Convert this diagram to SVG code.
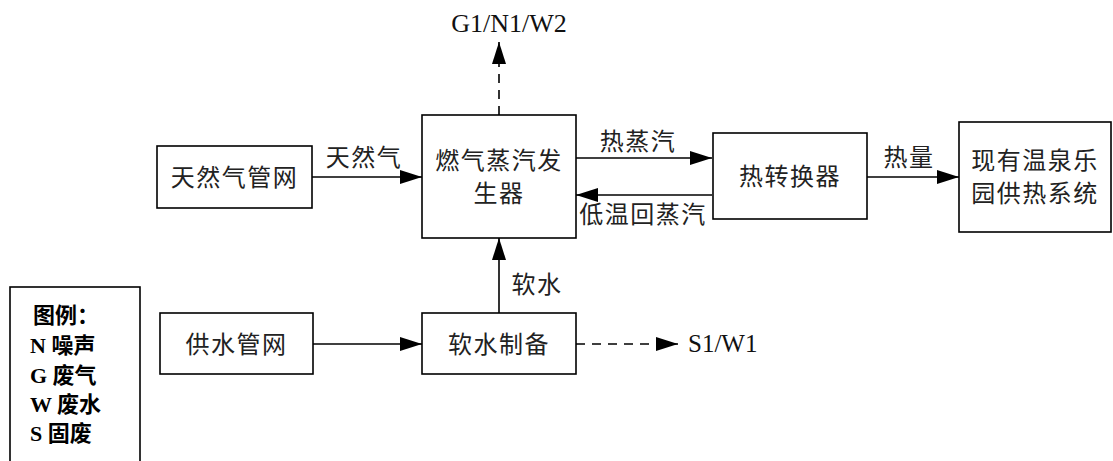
<svg xmlns="http://www.w3.org/2000/svg" width="1113" height="461" viewBox="0 0 1113 461">
<style>
.box{fill:#fff;stroke:#000;stroke-width:1.6}
.t{font-family:"Noto Sans CJK SC","Liberation Serif",serif;font-size:24px;letter-spacing:1.5px;fill:#222;text-anchor:middle}
.l{font-family:"Liberation Serif","Noto Sans CJK SC",serif;font-size:25px;fill:#111}
.lg{font-family:"Liberation Serif","Noto Sans CJK SC",serif;font-size:22px;font-weight:bold;fill:#000}
.c{stroke:#000;stroke-width:1.6;fill:none}
.d{stroke-dasharray:9,7}
</style>
<defs>
<marker id="ah" markerWidth="22" markerHeight="14" refX="22" refY="7" orient="auto" markerUnits="userSpaceOnUse">
<path d="M0,0 L22,7 L0,14 Z" fill="#000"/>
</marker>
</defs>
<rect width="1113" height="461" fill="#fff"/>
<g id="connectors">
<line class="c d" x1="499" y1="115" x2="499" y2="42" marker-end="url(#ah)"/>
<line class="c" x1="312" y1="177" x2="422" y2="177" marker-end="url(#ah)"/>
<line class="c" x1="576" y1="158" x2="712" y2="158" marker-end="url(#ah)"/>
<line class="c" x1="712" y1="195" x2="576" y2="195" marker-end="url(#ah)"/>
<line class="c" x1="867" y1="177" x2="959" y2="177" marker-end="url(#ah)"/>
<line class="c" x1="313" y1="344" x2="422" y2="344" marker-end="url(#ah)"/>
<line class="c" x1="499" y1="313" x2="499" y2="238" marker-end="url(#ah)"/>
<line class="c d" x1="576" y1="344" x2="678" y2="344" marker-end="url(#ah)"/>
<text class="l" x="509" y="32" text-anchor="middle" style="font-size:26px">G1/N1/W2</text>
<text class="t" x="364" y="166">天然气</text>
<text class="t" x="638" y="150">热蒸汽</text>
<text class="t" x="643" y="223">低温回蒸汽</text>
<text class="t" x="909" y="166">热量</text>
<text class="t" x="537" y="293">软水</text>
<text class="l" x="688" y="352">S1/W1</text>
</g>
<g id="n_gas">
<rect class="box" x="157" y="146" width="155" height="62"/>
<text class="t" x="234.5" y="186">天然气管网</text>
</g>
<g id="n_gen">
<rect class="box" x="422" y="115" width="154" height="123"/>
<text class="t" x="499" y="169">燃气蒸汽发</text>
<text class="t" x="499" y="202">生器</text>
</g>
<g id="n_hx">
<rect class="box" x="713" y="133" width="154" height="86"/>
<text class="t" x="790" y="185">热转换器</text>
</g>
<g id="n_sys">
<rect class="box" x="959" y="122" width="152" height="110"/>
<text class="t" x="1035" y="169">现有温泉乐</text>
<text class="t" x="1035" y="202">园供热系统</text>
</g>
<g id="n_water">
<rect class="box" x="160" y="313" width="153" height="61"/>
<text class="t" x="236.5" y="353">供水管网</text>
</g>
<g id="n_soft">
<rect class="box" x="422" y="313" width="154" height="61"/>
<text class="t" x="499" y="353">软水制备</text>
</g>
<g id="legend">
<rect class="box" x="10" y="287" width="130" height="200"/>
<text class="lg" x="33" y="323">图例：</text>
<text class="lg" x="30" y="353">N 噪声</text>
<text class="lg" x="30" y="383">G 废气</text>
<text class="lg" x="30" y="412">W 废水</text>
<text class="lg" x="30" y="441">S 固废</text>
</g>
</svg>
